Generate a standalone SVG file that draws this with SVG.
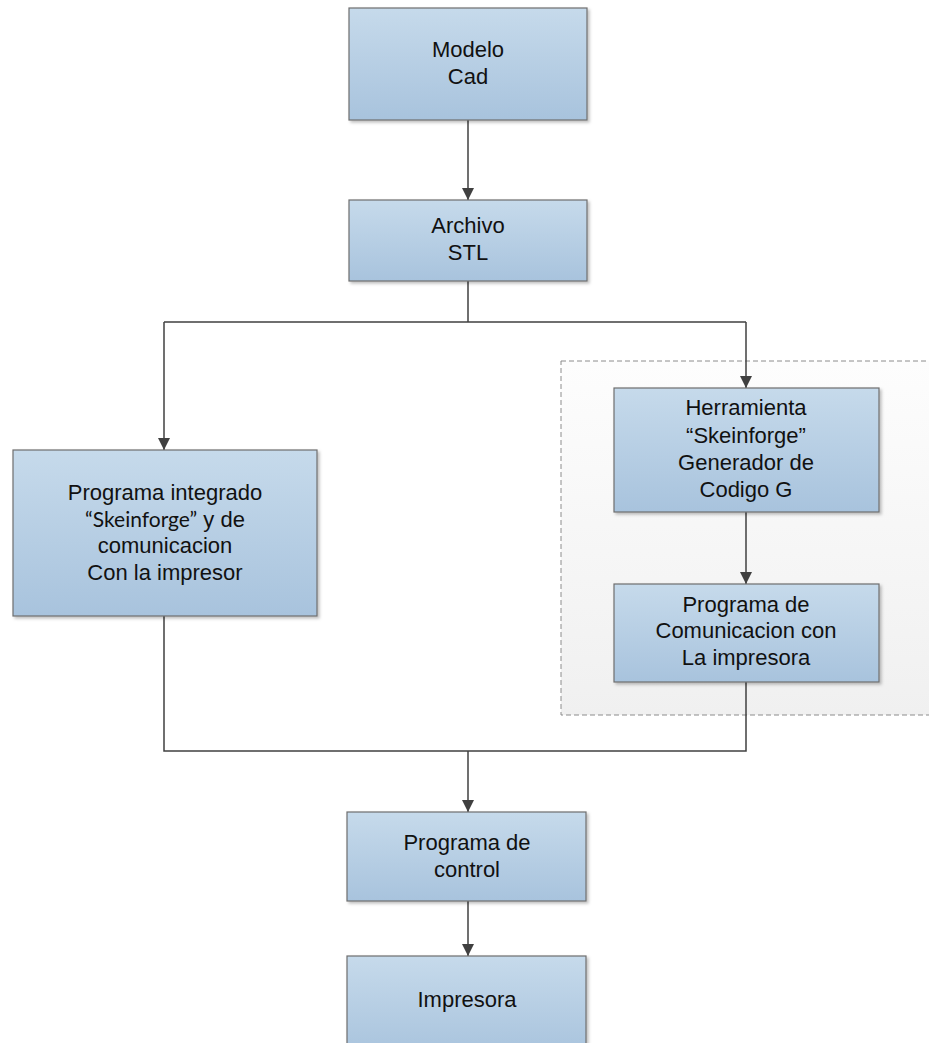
<svg xmlns="http://www.w3.org/2000/svg" width="929" height="1043" viewBox="0 0 929 1043">
<defs>
<linearGradient id="boxg" x1="0" y1="0" x2="0" y2="1">
<stop offset="0" stop-color="#c6daeb"/>
<stop offset="1" stop-color="#a8c3dd"/>
</linearGradient>
<linearGradient id="grpg" x1="0" y1="0" x2="0" y2="1">
<stop offset="0" stop-color="#fdfdfd"/>
<stop offset="1" stop-color="#f0f0f0"/>
</linearGradient>
<filter id="sh" x="-5%" y="-5%" width="110%" height="115%">
<feDropShadow dx="2" dy="2" stdDeviation="1.5" flood-color="#000" flood-opacity="0.25"/>
</filter>
<marker id="arr" viewBox="0 0 12 12" refX="12" refY="6" markerWidth="12" markerHeight="12" markerUnits="userSpaceOnUse" orient="auto">
<path d="M0,0 L12,6 L0,12 z" fill="#404040"/>
</marker>
</defs>
<style>
.box{fill:url(#boxg);stroke:#6e6e6e;stroke-width:1.2;filter:url(#sh)}
.t{font-family:"Liberation Sans",Arial,sans-serif;font-size:22px;fill:#111;text-anchor:middle}
.c{font-family:Lato,"Open Sans",sans-serif;font-size:21px}
.con{fill:none;stroke:#404040;stroke-width:1.5}
</style>
<rect width="929" height="1043" fill="#fff"/>
<g id="group-dashed">
<rect x="561" y="361" width="372" height="354" fill="url(#grpg)" stroke="#8c8c8c" stroke-width="1" stroke-dasharray="5,3"/>
</g>
<g id="connectors">
<path class="con" d="M468,120 V200" marker-end="url(#arr)"/>
<path class="con" d="M468,281 V322 M164,322 H746"/>
<path class="con" d="M164,322 V450" marker-end="url(#arr)"/>
<path class="con" d="M746,322 V388" marker-end="url(#arr)"/>
<path class="con" d="M746,512 V584" marker-end="url(#arr)"/>
<path class="con" d="M164,616 V751 H746 V682"/>
<path class="con" d="M468,751 V812" marker-end="url(#arr)"/>
<path class="con" d="M468,901 V956" marker-end="url(#arr)"/>
</g>
<g id="n-modelo">
<rect class="box" x="349" y="8" width="238" height="112"/>
<text class="t" x="468" y="57">Modelo</text>
<text class="t" x="468" y="84">Cad</text>
</g>
<g id="n-archivo">
<rect class="box" x="349" y="200" width="238" height="81"/>
<text class="t" x="468" y="233">Archivo</text>
<text class="t" x="468" y="260">STL</text>
</g>
<g id="n-integrado">
<rect class="box" x="13" y="450" width="304" height="166"/>
<text class="t" x="165" y="500">Programa integrado</text>
<text class="t" x="165" y="527"><tspan class="c">“Skeinforge”</tspan> y de</text>
<text class="t" x="165" y="553">comunicacion</text>
<text class="t" x="165" y="580">Con la impresor</text>
</g>
<g id="n-herramienta">
<rect class="box" x="614" y="388" width="265" height="124"/>
<text class="t" x="746" y="415">Herramienta</text>
<text class="t" x="746" y="443">“Skeinforge”</text>
<text class="t" x="746" y="470">Generador de</text>
<text class="t" x="746" y="497">Codigo G</text>
</g>
<g id="n-comunicacion">
<rect class="box" x="614" y="584" width="265" height="98"/>
<text class="t" x="746" y="612">Programa de</text>
<text class="t" x="746" y="638">Comunicacion con</text>
<text class="t" x="746" y="665">La impresora</text>
</g>
<g id="n-control">
<rect class="box" x="347" y="812" width="239" height="89"/>
<text class="t" x="467" y="850">Programa de</text>
<text class="t" x="467" y="877">control</text>
</g>
<g id="n-impresora">
<rect class="box" x="347" y="956" width="239" height="100"/>
<text class="t" x="467" y="1007">Impresora</text>
</g>
</svg>
